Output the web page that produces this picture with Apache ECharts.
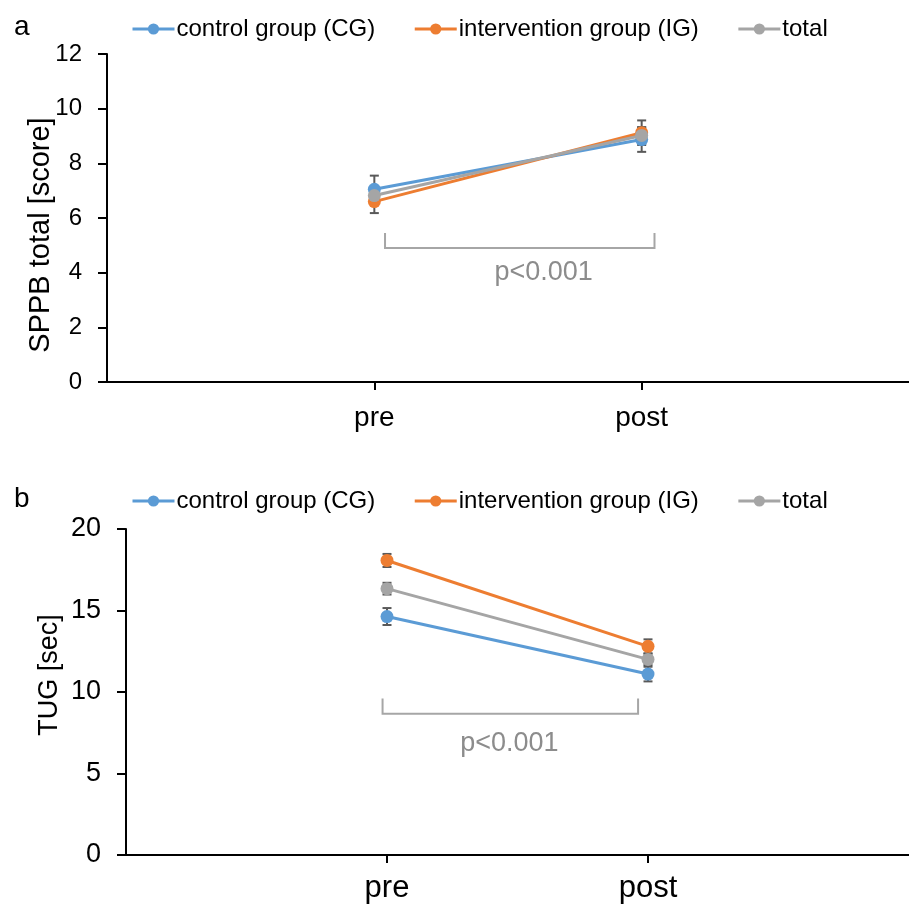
<!DOCTYPE html>
<html>
<head>
    <meta charset="utf-8">
    <title>SPPB / TUG</title>
    <script src="https://cdn.jsdelivr.net/npm/echarts@6/dist/echarts.min.js"></script>
</head>
<body style="margin:0;background:#fff;">
    <div id="main" style="width:909px;height:904px;"></div>
    <script type="text/javascript">
        // data
        var timepoints = ['pre', 'post'];
        var seriesNames = ['control group (CG)', 'intervention group (IG)', 'total'];
        var colors = ['#5B9BD5', '#ED7D31', '#A5A5A5'];

        // a: SPPB total [score]
        var sppbMean = [[7.05, 8.87], [6.6, 9.12], [6.82, 9.02]];
        var sppbSd   = [[0.5, 0.45], [0.42, 0.45], [0.3, 0.3]];
        var sppbTicks = [0, 2, 4, 6, 8, 10, 12];

        // b: TUG [sec]
        var tugMean = [[14.63, 11.1], [18.07, 12.8], [16.34, 12.0]];
        var tugSd   = [[0.52, 0.45], [0.4, 0.43], [0.36, 0.35]];
        var tugTicks = [0, 5, 10, 15, 20];

        var pLabel = 'p<0.001';

        var myChart = echarts.init(document.getElementById('main'));

        var fontFam = '"Liberation Sans", Arial, sans-serif';

        // 误差线
        function errBar(params, api) {
            var x = api.value(0), m = api.value(1), s = api.value(2);
            var t = api.coord([x, m + s]);
            var b = api.coord([x, m - s]);
            var st = {stroke: '#595959', lineWidth: 2};
            return {type: 'group', children: [
                {type: 'line', shape: {x1: t[0], y1: t[1], x2: b[0], y2: b[1]}, style: st},
                {type: 'line', shape: {x1: t[0] - 4.5, y1: t[1], x2: t[0] + 4.5, y2: t[1]}, style: st},
                {type: 'line', shape: {x1: b[0] - 4.5, y1: b[1], x2: b[0] + 4.5, y2: b[1]}, style: st}
            ]};
        }

        // 显著性括号 + p值
        function bracket(params, api) {
            var x0 = api.value(0), x1 = api.value(1), yt = api.value(2), yb = api.value(3);
            var tx = api.value(4), ty = api.value(5);
            var p0 = api.coord([x0, yt]), p1 = api.coord([x0, yb]);
            var p2 = api.coord([x1, yb]), p3 = api.coord([x1, yt]);
            var pt = api.coord([tx, ty]);
            return {type: 'group', children: [
                {type: 'polyline', shape: {points: [p0, p1, p2, p3]},
                 style: {stroke: '#A6A6A6', lineWidth: 2, fill: null}},
                {type: 'text', x: pt[0], y: pt[1],
                 style: {text: pLabel, fill: '#8C8C8C', font: '27px ' + fontFam, align: 'center', verticalAlign: 'middle'}}
            ]};
        }

        function xAxisFor(gridIndex, margin, size) {
            return {
                type: 'value', gridIndex: gridIndex, min: 0, max: 3,
                splitLine: {show: false},
                axisLine: {lineStyle: {color: '#000', width: 2}},
                axisTick: {show: true, customValues: [1, 2], length: 8, lineStyle: {color: '#000', width: 2}},
                axisLabel: {customValues: [1, 2], margin: margin, fontSize: size, color: '#000', fontFamily: fontFam,
                    formatter: function (v) { return timepoints[v - 1] || ''; }}
            };
        }

        function yAxisFor(gridIndex, ticks, name, gap, nameSize, namePad, labelSize) {
            return {
                type: 'value', gridIndex: gridIndex,
                min: ticks[0], max: ticks[ticks.length - 1], interval: ticks[1] - ticks[0],
                name: name, nameLocation: 'middle', nameGap: gap, nameMoveOverlap: false,
                nameTextStyle: {fontSize: nameSize, color: '#000', fontFamily: fontFam, padding: namePad},
                splitLine: {show: false},
                axisLine: {show: true, lineStyle: {color: '#000', width: 2}},
                axisTick: {show: true, length: 9, lineStyle: {color: '#000', width: 2}},
                axisLabel: {fontSize: labelSize, color: '#000', fontFamily: fontFam, margin: 25}
            };
        }

        function legendFor(top) {
            return {
                top: top, left: 126, itemWidth: 42, itemHeight: 14, itemGap: 38,
                data: seriesNames,
                lineStyle: {width: 3},
                textStyle: {fontSize: 24, color: '#000', fontFamily: fontFam, padding: [0, 0, 0, -3]}
            };
        }

        var series = [];
        function addChart(gridIndex, means, sds, br) {
            seriesNames.forEach(function (n, i) {
                series.push({
                    type: 'custom', xAxisIndex: gridIndex, yAxisIndex: gridIndex,
                    renderItem: errBar, z: 1, silent: true,
                    data: means[i].map(function (m, k) { return [k + 1, m, sds[i][k]]; })
                });
            });
            seriesNames.forEach(function (n, i) {
                series.push({
                    type: 'line', name: n, xAxisIndex: gridIndex, yAxisIndex: gridIndex,
                    symbol: 'circle', symbolSize: 13, z: 3 + i,
                    itemStyle: {color: colors[i]},
                    lineStyle: {color: colors[i], width: 3},
                    data: means[i].map(function (m, k) { return [k + 1, m]; })
                });
            });
            series.push({
                type: 'custom', xAxisIndex: gridIndex, yAxisIndex: gridIndex,
                renderItem: bracket, silent: true, z: 1,
                data: [br]
            });
        }

        // bracket: x from, x to, y top, y bottom, text x, text y
        var bracketA = [1.04, 2.048, 5.45, 4.9, 1.633, 3.99];
        var bracketB = [0.983, 1.962, 9.6, 8.66, 1.469, 6.83];

        addChart(0, sppbMean, sppbSd, bracketA);
        addChart(1, tugMean, tugSd, bracketB);

        option = {
            backgroundColor: '#fff',
            animation: false,
            title: [
                {text: 'a', left: 9, top: 8, textStyle: {fontSize: 28, fontWeight: 'normal', color: '#000', fontFamily: fontFam}},
                {text: 'b', left: 9, top: 480, textStyle: {fontSize: 28, fontWeight: 'normal', color: '#000', fontFamily: fontFam}}
            ],
            legend: [legendFor(12), legendFor(484)],
            grid: [
                {left: 107, top: 54, height: 328, right: -8},
                {left: 126, top: 529, height: 328, right: -8}
            ],
            xAxis: [xAxisFor(0, 22, 28), xAxisFor(1, 18, 31)],
            yAxis: [
                yAxisFor(0, sppbTicks, 'SPPB total [score]', 52, 29, [0, 34, 0, 0], 24),
                yAxisFor(1, tugTicks, 'TUG [sec]', 63, 27, [0, 0, 0, 34], 27)
            ],
            series: series
        };

        myChart.setOption(option);
    </script>
</body>
</html>
